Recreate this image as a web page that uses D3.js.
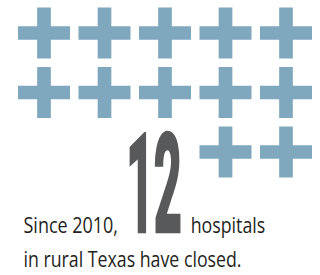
<!DOCTYPE html>
<html>
<head>
<meta charset="utf-8">
<script src="https://cdn.jsdelivr.net/npm/d3@7"></script>
<style>
  html, body { margin: 0; padding: 0; background: #fff; }
  svg { display: block; }
</style>
</head>
<body>
<script>
// pictogram data: one cross per closed hospital
const closedCount = 12;
const columns = [0, 1, 2, 3, 4];
const rows = [0, 1, 2];
const headline = "12";
const lineOneLeft = "Since 2010,";
const lineOneRight = "hospitals";
const lineTwo = "in rural Texas have closed.";

const width = 320;
const height = 275;
const crossW = 52;
const crossH = 51;
const arm = 13.7;

let svg = d3.select("body").append("svg")
    .attr("width", width)
    .attr("height", height);

const x = d3.scaleBand().domain(columns).range([13.75, 316.25]);
const y = d3.scaleBand().domain(rows).range([3.25, 181.75]);

// fill each row from the right so the leftover crosses sit on the right
const crosses = d3.range(closedCount).map(function(i) {
    return { col: columns.length - 1 - (i % columns.length), row: Math.floor(i / columns.length) };
});

function crossPath(cx, cy) {
    let p = d3.path();
    let hw = crossW / 2, hh = crossH / 2, a = arm / 2;
    p.moveTo(cx - a, cy - hh);
    p.lineTo(cx + a, cy - hh);
    p.lineTo(cx + a, cy - a);
    p.lineTo(cx + hw, cy - a);
    p.lineTo(cx + hw, cy + a);
    p.lineTo(cx + a, cy + a);
    p.lineTo(cx + a, cy + hh);
    p.lineTo(cx - a, cy + hh);
    p.lineTo(cx - a, cy + a);
    p.lineTo(cx - hw, cy + a);
    p.lineTo(cx - hw, cy - a);
    p.lineTo(cx - a, cy - a);
    p.closePath();
    return p.toString();
}

svg.selectAll(".cross")
    .data(crosses)
    .enter()
    .append("path")
    .attr("class", "cross")
    .attr("d", function(d) {
        return crossPath(x(d.col) + x.bandwidth() / 2, y(d.row) + y.bandwidth() / 2);
    })
    .attr("fill", "#7fa8be");

// big number
svg.append("text")
    .attr("x", 126.5)
    .attr("y", 231)
    .attr("font-family", "Roboto")
    .attr("font-weight", 700)
    .attr("font-size", 136)
    .attr("textLength", 55)
    .attr("lengthAdjust", "spacingAndGlyphs")
    .attr("fill", "#58595b")
    .attr("stroke", "#58595b")
    .attr("stroke-width", 4.5)
    .attr("stroke-linejoin", "miter")
    .text(headline);

const small = { family: "'Open Sans'", size: 22, color: "#231f20" };

function addLine(str, x0, y0, len) {
    svg.append("text")
        .attr("x", x0)
        .attr("y", y0)
        .attr("font-family", small.family)
        .attr("font-size", small.size)
        .attr("textLength", len)
        .attr("lengthAdjust", "spacingAndGlyphs")
        .attr("fill", small.color)
        .text(str);
}

addLine(lineOneLeft, 23.5, 233.3, 94.5);
addLine(lineOneRight, 190.7, 233.3, 74.5);
addLine(lineTwo, 23.5, 266.7, 218);
</script>
</body>
</html>
